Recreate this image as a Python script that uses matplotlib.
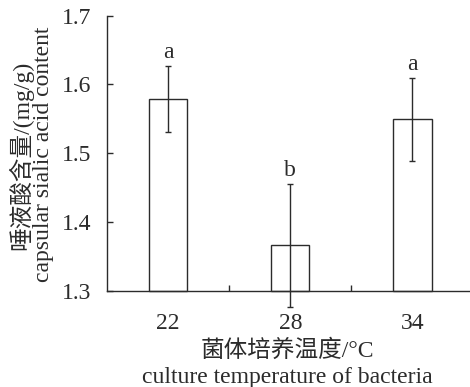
import matplotlib
matplotlib.use("Agg")
import matplotlib.pyplot as plt
import numpy as np

categories = ["22", "28", "34"]
values = [1.579, 1.366, 1.549]
errors = [0.048, 0.089, 0.060]
letters = ["a", "b", "a"]
yticks = [1.3, 1.4, 1.5, 1.6, 1.7]

plt.rcParams['font.family'] = ['Liberation Serif', 'Noto Sans CJK SC']
col = '#2b2b2b'
fs = 17

fig = plt.figure(figsize=(4.70, 3.87), dpi=100)
ax = fig.add_axes([107/470, 96.3/387, 366.5/470, 275.2/387])
x = np.arange(len(categories))
ax.bar(x, [v - 1.3 for v in values], bottom=1.3, width=0.315, color='white',
       edgecolor=col, linewidth=1.0, zorder=2)
ax.errorbar(x, values, yerr=errors, fmt='none', ecolor=col, elinewidth=1.0,
            capsize=2.5, capthick=1.0, zorder=3)
for xi, v, e, l in zip(x, values, errors, letters):
    ax.annotate(l, (xi, v + e), xytext=(0, 2), textcoords='offset points',
                ha='center', va='bottom', fontsize=fs, color=col)

ax.set_xlim(-0.5, 2.5)
ax.set_ylim(1.3, 1.7)
ax.set_yticks(yticks)
ax.set_yticklabels([f"{t:.1f}" for t in yticks])
ax.set_xticks(x)
ax.set_xticklabels(categories)
ax.set_xticks([0.5, 1.5], minor=True)
ax.tick_params(axis='x', which='major', length=0, pad=16, labelsize=fs, colors=col)
ax.tick_params(axis='x', which='minor', direction='in', length=4, width=1.0, color=col)
ax.tick_params(axis='y', direction='in', length=4, width=1.0, labelsize=fs, pad=11, colors=col)
for s in ['top', 'right']:
    ax.spines[s].set_visible(False)
for s in ['left', 'bottom']:
    ax.spines[s].set_linewidth(1.0)
    ax.spines[s].set_color(col)
for art in ax.get_children():
    try:
        art.set_clip_on(False)
    except Exception:
        pass

fig.text(21/470, 1 - 155/387, "唾液酸含量/(mg/g)", rotation=90, ha='center', va='center',
         fontsize=fs, color=col)
fig.text(44/470, 1 - 154/387, "capsular sialic acid content", rotation=90, ha='center', va='center',
         fontsize=fs, color=col)
fig.text(287/470, 1 - 351/387, "菌体培养温度/°C", ha='center', va='center', fontsize=fs, color=col)
fig.text(287/470, 1 - 377/387, "culture temperature of bacteria", ha='center', va='center',
         fontsize=fs, color=col)

fig.savefig("out.png", dpi=100)
